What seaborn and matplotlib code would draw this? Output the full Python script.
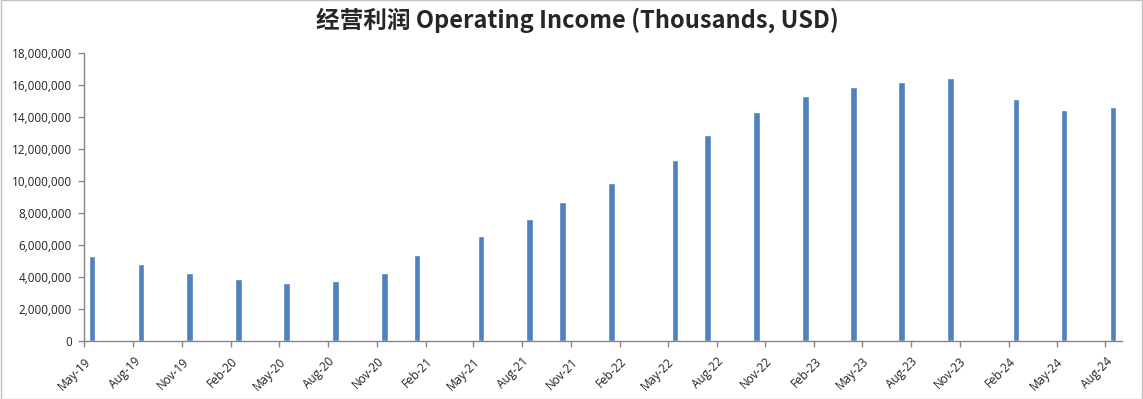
import numpy as np
import pandas as pd
import matplotlib
matplotlib.use('Agg')
import matplotlib.pyplot as plt
import matplotlib.dates as mdates
import matplotlib.ticker as mticker
import seaborn as sns

# data (monthly slots, drawn mid-month like the Excel date axis)
months = ['2019-05', '2019-08', '2019-11', '2020-02', '2020-05', '2020-08', '2020-11',
          '2021-01', '2021-05', '2021-08', '2021-10', '2022-01', '2022-05', '2022-07',
          '2022-10', '2023-01', '2023-04', '2023-07', '2023-10', '2024-02', '2024-05',
          '2024-08']
op_income = [5310000, 4810000, 4250000, 3880000, 3630000, 3750000, 4250000,
             5370000, 6560000, 7620000, 8690000, 9870000, 11310000, 12870000,
             14310000, 15300000, 15870000, 16180000, 16430000, 15120000, 14430000,
             14620000]

title_txt = '经营利润 Operating Income (Thousands, USD)'
bar_color = '#4F81BD'
axis_grey = '#868686'

sns.set_style('white')
plt.rcParams['font.family'] = ['Open Sans', 'DejaVu Sans']

df = pd.DataFrame({'month': pd.to_datetime(months) + pd.Timedelta(days=14),
                   'value': op_income})
df['x'] = mdates.date2num(df['month'])

fig = plt.figure(figsize=(11.43, 3.99), dpi=100)
ax = fig.add_axes([0.0739, 0.1454, 0.9077, 0.7216])

# bar width ~12 days, seaborn scales width by the smallest gap between x values
min_gap = np.min(np.diff(df['x'].values))
sns.barplot(data=df, x='x', y='value', native_scale=True, width=12.5 / min_gap,
            color=bar_color, saturation=1, errorbar=None, ax=ax)

ax.set_xlim(mdates.date2num(pd.Timestamp('2019-05-01')),
            mdates.date2num(pd.Timestamp('2024-09-01')))
ax.set_ylim(0, 18000000)
ax.xaxis.set_major_locator(mdates.MonthLocator(bymonth=[2, 5, 8, 11]))
ax.xaxis.set_major_formatter(mdates.DateFormatter('%b-%y'))
ax.yaxis.set_major_locator(mticker.MultipleLocator(2000000))
ax.yaxis.set_major_formatter(mticker.FuncFormatter(lambda v, p: f'{int(v):,}'))

ax.set_xlabel('')
ax.set_ylabel('')
for s in ['top', 'right']:
    ax.spines[s].set_visible(False)
for s in ['left', 'bottom']:
    ax.spines[s].set_color(axis_grey)
    ax.spines[s].set_linewidth(1)
ax.tick_params(axis='both', direction='out', length=4, width=1, color=axis_grey,
               labelsize=8.5, labelcolor='#222222')
ax.tick_params(axis='x', bottom=True, pad=6)
ax.tick_params(axis='y', left=True, pad=5)
plt.setp(ax.get_xticklabels(), rotation=45, ha='right', rotation_mode='anchor')

fig.text(0.505, 0.95, title_txt, ha='center', va='center', fontsize=17,
         fontweight='bold', family=['Noto Sans CJK SC', 'DejaVu Sans'])

# light frame around the whole chart
fig.patches.append(plt.Rectangle((0.001, 0.001), 0.998, 0.998, transform=fig.transFigure,
                                 fill=False, edgecolor='#BFBFBF', linewidth=1))

fig.savefig('out.png', dpi=100)
